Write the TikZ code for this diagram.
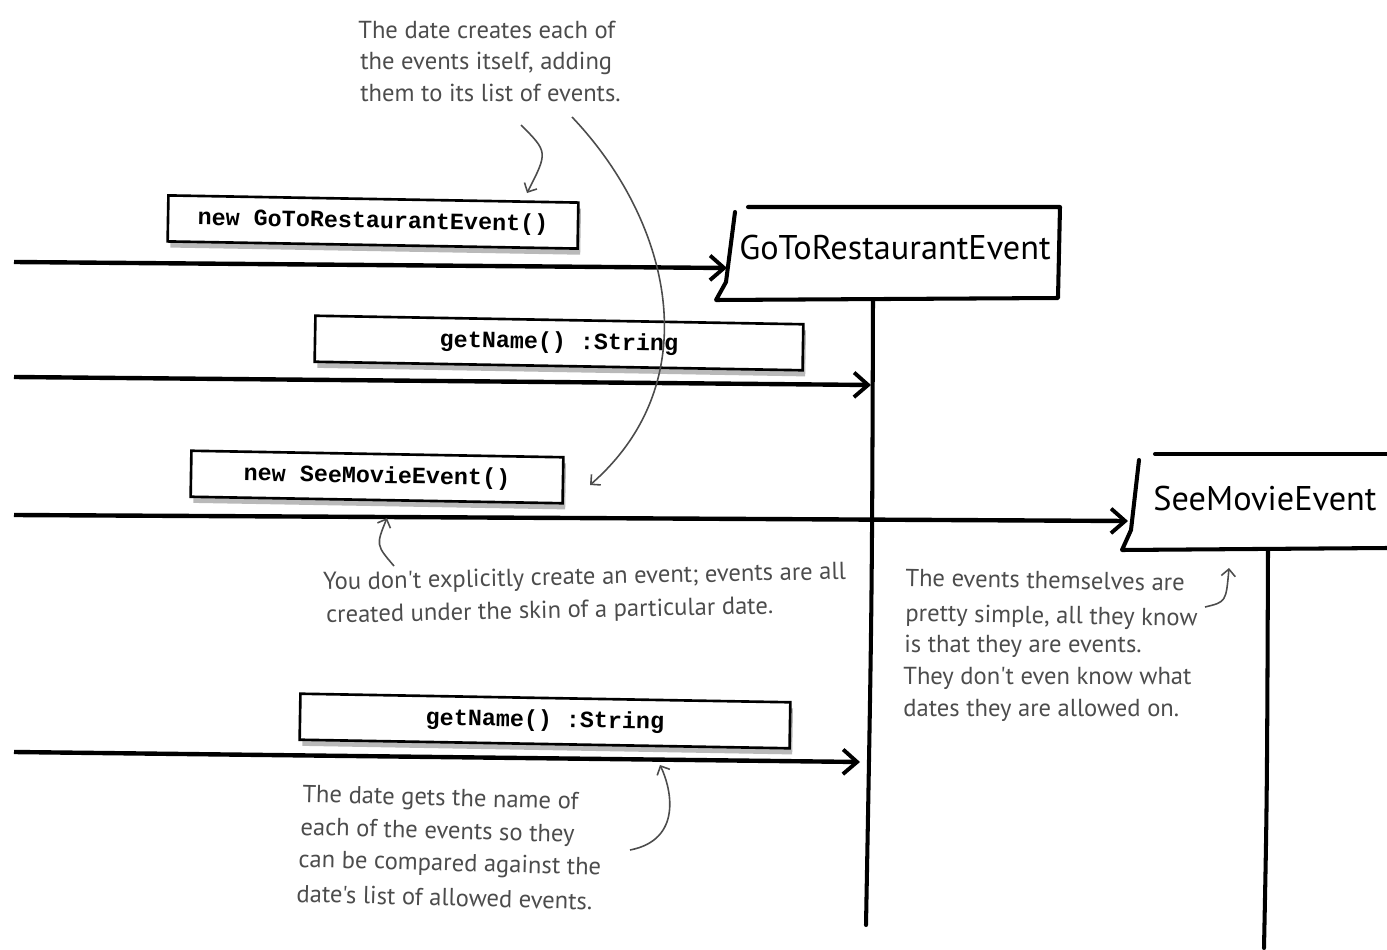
\documentclass[tikz,border=0pt]{standalone}
\usepackage{fontspec}
\newfontfamily\handfont{PT Sans}
\newfontfamily\codefont{Liberation Mono}
\usetikzlibrary{arrows.meta,shadows}
\definecolor{notegray}{HTML}{4c4c4c}
\begin{document}
\begin{tikzpicture}[x=0.02cm,y=-0.02cm,
  msgbox/.style={draw=black, line width=1.5pt, fill=white, inner sep=0pt,
    font=\codefont\bfseries\fontsize{13.3}{16}\selectfont,
    drop shadow={shadow xshift=1.5pt, shadow yshift=-3.5pt, opacity=0.5, fill=black!55},
    rotate=-1},
  msgline/.style={line width=2.5pt, -{Straight Barb[length=8pt,width=14pt,line width=2.2pt]}},
  clsname/.style={font=\handfont\fontsize{19.5}{22}\selectfont, inner sep=0pt},
  clsbox/.style={line width=2.3pt, line join=round, line cap=round},
  lifeline/.style={line width=2.3pt, line cap=round},
  note/.style={font=\handfont\fontsize{14}{18}\selectfont, text=notegray, inner sep=0pt, anchor=base west},
  pointer/.style={draw=notegray, line width=0.9pt, -{Straight Barb[length=4pt,width=8pt]}}
]
\useasboundingbox (0,0) rectangle (1387,950);

% ---- class boxes ----
\node[clsname] (c1) at (895,248) {GoToRestaurantEvent};
\draw[clsbox] (748,207) -- (1060,207) -- (1058,298) -- (716,300) -- (726,282) -- (735,212);
\node[clsname] (c2) at (1265,499) {SeeMovieEvent};
\draw[clsbox] (1155,454) -- (1387,454);
\draw[clsbox] (1139,460) -- (1131,530) -- (1122,550) -- (1387,548);

% lifelines
\coordinate (l1top) at (873,300);
\coordinate (l1bot) at (866,925);
\coordinate (l2top) at (1268,550);
\coordinate (l2bot) at (1264,948);
\draw[lifeline] (l1top) .. controls (872,600) .. (l1bot);
\draw[lifeline] (l2top) .. controls (1267,800) .. (l2bot);

% ---- message boxes ----
\node[msgbox, minimum width=410*0.02cm, minimum height=46*0.02cm] (m1) at (373,222) {new GoToRestaurantEvent()};
\node[msgbox, minimum width=488*0.02cm, minimum height=46*0.02cm] (m2) at (559,343) {getName() :String};
\node[msgbox, minimum width=372*0.02cm, minimum height=46*0.02cm] (m3) at (377,477) {new SeeMovieEvent()};
\node[msgbox, minimum width=490*0.02cm, minimum height=46*0.02cm] (m4) at (545,721) {getName() :String};

% ---- messages ----
\coordinate (s1) at (14,262);
\coordinate (e1) at (727,268);
\coordinate (s2) at (14,377);
\coordinate (e2) at (871,385);
\coordinate (s3) at (14,515);
\coordinate (e3) at (1128,521);
\coordinate (s4) at (14,752);
\coordinate (e4) at (860,762);
\draw[msgline] (s1) -- (e1);
\draw[msgline] (s2) -- (e2);
\draw[msgline] (s3) -- (e3);
\draw[msgline] (s4) -- (e4);

% ---- notes ----
\node[note] (n1a) at (358,38) {The date creates each of};
\node[note] (n1b) at (360,70) {the events itself, adding};
\node[note] (n1c) at (360,101) {them to its list of events.};

\node[note, rotate=1.2] (n2a) at (323,590) {You don't explicitly create an event; events are all};
\node[note, rotate=1.2] (n2b) at (326,623) {created under the skin of a particular date.};

\node[note, rotate=-1] (n3a) at (905,586) {The events themselves are};
\node[note, rotate=-1] (n3b) at (905,621) {pretty simple, all they know};
\node[note] (n3c) at (904,652) {is that they are events.};
\node[note] (n3d) at (903,684) {They don't even know what};
\node[note] (n3e) at (903,716) {dates they are allowed on.};

\node[note, rotate=-1.5] (n4a) at (302,802) {The date gets the name of};
\node[note, rotate=-1.5] (n4b) at (300,835) {each of the events so they};
\node[note, rotate=-1.5] (n4c) at (298,867) {can be compared against the};
\node[note, rotate=-1.5] (n4d) at (296,902) {date's list of allowed events.};

% ---- pointers ----
\coordinate (p1a) at (521,125);
\coordinate (p1b) at (527,193);
\draw[pointer] (p1a) .. controls (548,152) .. (p1b);
\coordinate (p2a) at (572,117);
\coordinate (p2b) at (590,485);
\draw[pointer] (p2a) .. controls (670,220) and (710,380) .. (p2b);
\coordinate (p3a) at (394,566);
\coordinate (p3b) at (387,518);
\draw[pointer] (p3a) .. controls (376,545) .. (p3b);
\coordinate (p4a) at (1205,607);
\coordinate (p4b) at (1229,568);
\draw[pointer] (p4a) .. controls (1226,602) .. (p4b);
\coordinate (p5a) at (630,850);
\coordinate (p5b) at (660,765);
\draw[pointer] (p5a) .. controls (682,840) and (672,790) .. (p5b);
\end{tikzpicture}
\end{document}
